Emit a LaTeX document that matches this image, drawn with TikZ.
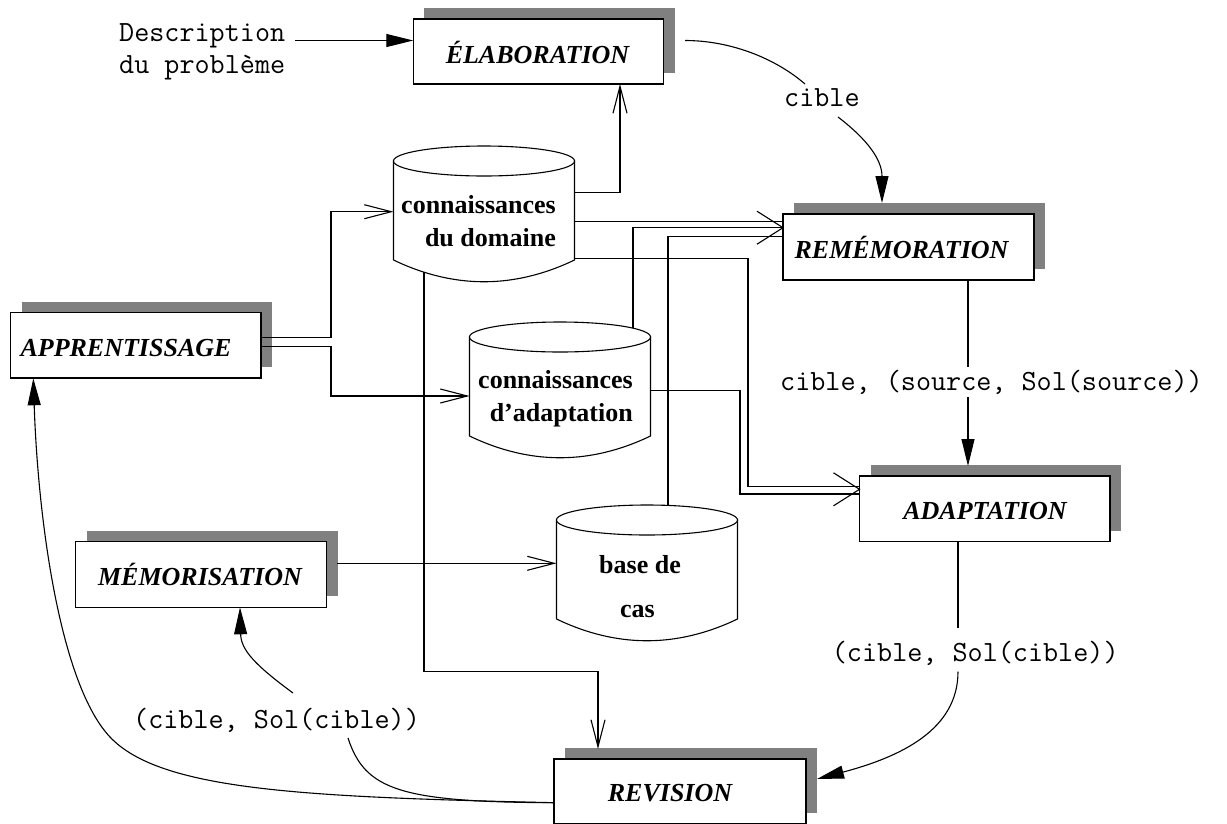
\documentclass[tikz,border=0pt]{standalone}
\usepackage{fontspec}
\setmainfont{Liberation Serif}
\usetikzlibrary{arrows.meta,shadows}
\definecolor{shadowgray}{gray}{0.5}
\tikzset{
  ln/.style={line width=1.1pt},
  procbox/.style={draw, fill=white, line width=1.1pt, inner sep=0pt, outer sep=0pt, anchor=north west,
    general shadow={fill=shadowgray, shadow xshift=11pt, shadow yshift=11pt}},
  proctext/.style={anchor=base, inner sep=0pt, font=\fontsize{26pt}{30pt}\selectfont\bfseries\itshape},
  cyltext/.style={inner sep=0pt, font=\fontsize{26pt}{30pt}\selectfont\bfseries},
  mono/.style={anchor=base west, inner sep=0pt, font=\fontsize{29.3pt}{34pt}\selectfont\ttfamily},
  farrow/.style={ln, -{Triangle[length=27pt,width=13pt]}},
  oarrow/.style={ln, -{Straight Barb[length=27pt,width=14pt]}},
  dbcyl/.pic={
    \path[draw, fill=white, line width=1.1pt] (-90.5,0) -- (-90.5,99) .. controls (-30,128) and (30,128) .. (90.5,99) -- (90.5,0) -- cycle;
    \draw[line width=1.1pt, fill=white] (0,0) ellipse [x radius=90.5, y radius=15];
  }
}
\begin{document}
\begin{tikzpicture}[x=1pt,y=-1pt]
\useasboundingbox (0,0) rectangle (1227,823);

% process boxes
\node[procbox, minimum width=250.5pt, minimum height=65pt] (elab) at (413.3,19) {};
\node[proctext] (elabT) at (537.5,63.3) {ÉLABORATION};
\node[procbox, minimum width=251pt, minimum height=66pt] (rem) at (783,214) {};
\node[proctext] (remT) at (901.5,258.3) {REMÉMORATION};
\node[procbox, minimum width=250.3pt, minimum height=65.3pt] (appr) at (10.7,312.7) {};
\node[proctext] (apprT) at (126,356) {APPRENTISSAGE};
\node[procbox, minimum width=250.5pt, minimum height=65.7pt] (adapt) at (859.5,476) {};
\node[proctext] (adaptT) at (985,519.3) {ADAPTATION};
\node[procbox, minimum width=251pt, minimum height=65.6pt] (memo) at (75.7,541.7) {};
\node[proctext] (memoT) at (200,585) {MÉMORISATION};
\node[procbox, minimum width=252pt, minimum height=65pt] (rev) at (554,759) {};
\node[proctext] (revT) at (670,801.7) {REVISION};

% data stores
\pic at (484,161) {dbcyl};
\node[cyltext, anchor=base east] (cd1) at (556,213) {connaissances};
\node[cyltext, anchor=base east] (cd2) at (556,246.7) {du domaine};
\pic at (560,337) {dbcyl};
\node[cyltext, anchor=base east] (ca1) at (633,388) {connaissances};
\node[cyltext, anchor=base east] (ca2) at (633,421.7) {d’adaptation};
\pic at (647,520) {dbcyl};
\node[cyltext, anchor=base] (cb1) at (640,573) {base de};
\node[cyltext, anchor=base] (cb2) at (637.5,617) {cas};

% text labels
\node[mono] (desc1) at (119,41.7) {Description};
\node[mono] (desc2) at (119,73) {du problème};
\node[mono] (lcible) at (784,106) {cible};
\node[mono] (lrem) at (780,390) {cible, (source, Sol(source))};
\node[mono] (ladapt) at (831.7,661.7) {(cible, Sol(cible))};
\node[mono] (lrev) at (133,728) {(cible, Sol(cible))};

% named end points
\coordinate (descOut) at (295,40.5);
\coordinate (elabIn) at (413.3,40.5);
\coordinate (dElab) at (574.5,192.7);
\coordinate (elabUp) at (620,84);
\coordinate (dRem) at (574.5,221.7);
\coordinate (remIn1) at (783,221.7);
\coordinate (aTop) at (633,328);
\coordinate (remTip) at (783,227.7);
\coordinate (bTop) at (668,505.5);
\coordinate (remIn3) at (783,236.7);
\coordinate (dAd) at (574.5,258.3);
\coordinate (adIn1) at (859.5,486.7);
\coordinate (aAd) at (650.5,390.7);
\coordinate (adIn2) at (859.5,494);
\coordinate (adTip) at (859.5,489.3);
\coordinate (apOut1) at (261,337.7);
\coordinate (dIn) at (393.5,211.7);
\coordinate (apOut2) at (261,346.7);
\coordinate (aIn) at (469.5,396);
\coordinate (dBot) at (424,272);
\coordinate (revIn1) at (598,749);
\coordinate (memoOut) at (337,563.3);
\coordinate (bIn) at (556.5,563.3);
\coordinate (remOut) at (968,280);
\coordinate (remLblTop) at (968,367);
\coordinate (remLblBot) at (968,397);
\coordinate (adaptIn) at (968,466);
\coordinate (adaptOut) at (958,541.7);
\coordinate (adLblTop) at (958,628);
\coordinate (adLblBot) at (958,671.7);
\coordinate (revIn2) at (817,779);
\coordinate (elabOut) at (685,40.5);
\coordinate (cibTop) at (805,84);
\coordinate (cibBot) at (838,117);
\coordinate (remIn) at (882,203);
\coordinate (revOut) at (554,802.7);
\coordinate (revLblBot) at (348,738);
\coordinate (revLblTop) at (293,693);
\coordinate (memoIn) at (240,607.3);
\coordinate (apprIn) at (33.3,378.3);

% connectors
\draw[farrow] (descOut) -- (elabIn);
\draw[oarrow] (dElab) -| (elabUp);
\draw[ln] (elabOut) .. controls (730,40.5) and (775,58) .. (cibTop);
\draw[farrow] (cibBot) .. controls (868,140) and (882,160) .. (remIn);
\draw[ln] (dRem) -- (remIn1);
\draw[ln] (aTop) |- (remTip);
\draw[ln] (bTop) |- (remIn3);
\draw[ln] ([shift={(-26,-16.5)}]remTip) -- (remTip) -- ([shift={(-26,16.5)}]remTip);
\draw[ln] (dAd) -- (748,258.3) |- (adIn1);
\draw[ln] (aAd) -- (740,390.7) |- (adIn2);
\draw[ln] ([shift={(-26,-16.5)}]adTip) -- (adTip) -- ([shift={(-26,16.5)}]adTip);
\draw[oarrow] (apOut1) -- (331,337.7) |- (dIn);
\draw[oarrow] (apOut2) -- (331,346.7) |- (aIn);
\draw[oarrow] (dBot) -- (424,671.7) -| (revIn1);
\draw[oarrow] (memoOut) -- (bIn);
\draw[ln] (remOut) -- (remLblTop);
\draw[farrow] (remLblBot) -- (adaptIn);
\draw[ln] (adaptOut) -- (adLblTop);
\draw[farrow] (adLblBot) .. controls (958,730) and (900,757) .. (revIn2);
\draw[ln] (revOut) .. controls (400,802) and (365,790) .. (revLblBot);
\draw[farrow] (revLblTop) .. controls (255,665) and (241,650) .. (memoIn);
\draw[farrow] (revOut) .. controls (300,797) and (160,790) .. (110,737) .. controls (60,684) and (38,520) .. (apprIn);
\end{tikzpicture}
\end{document}
